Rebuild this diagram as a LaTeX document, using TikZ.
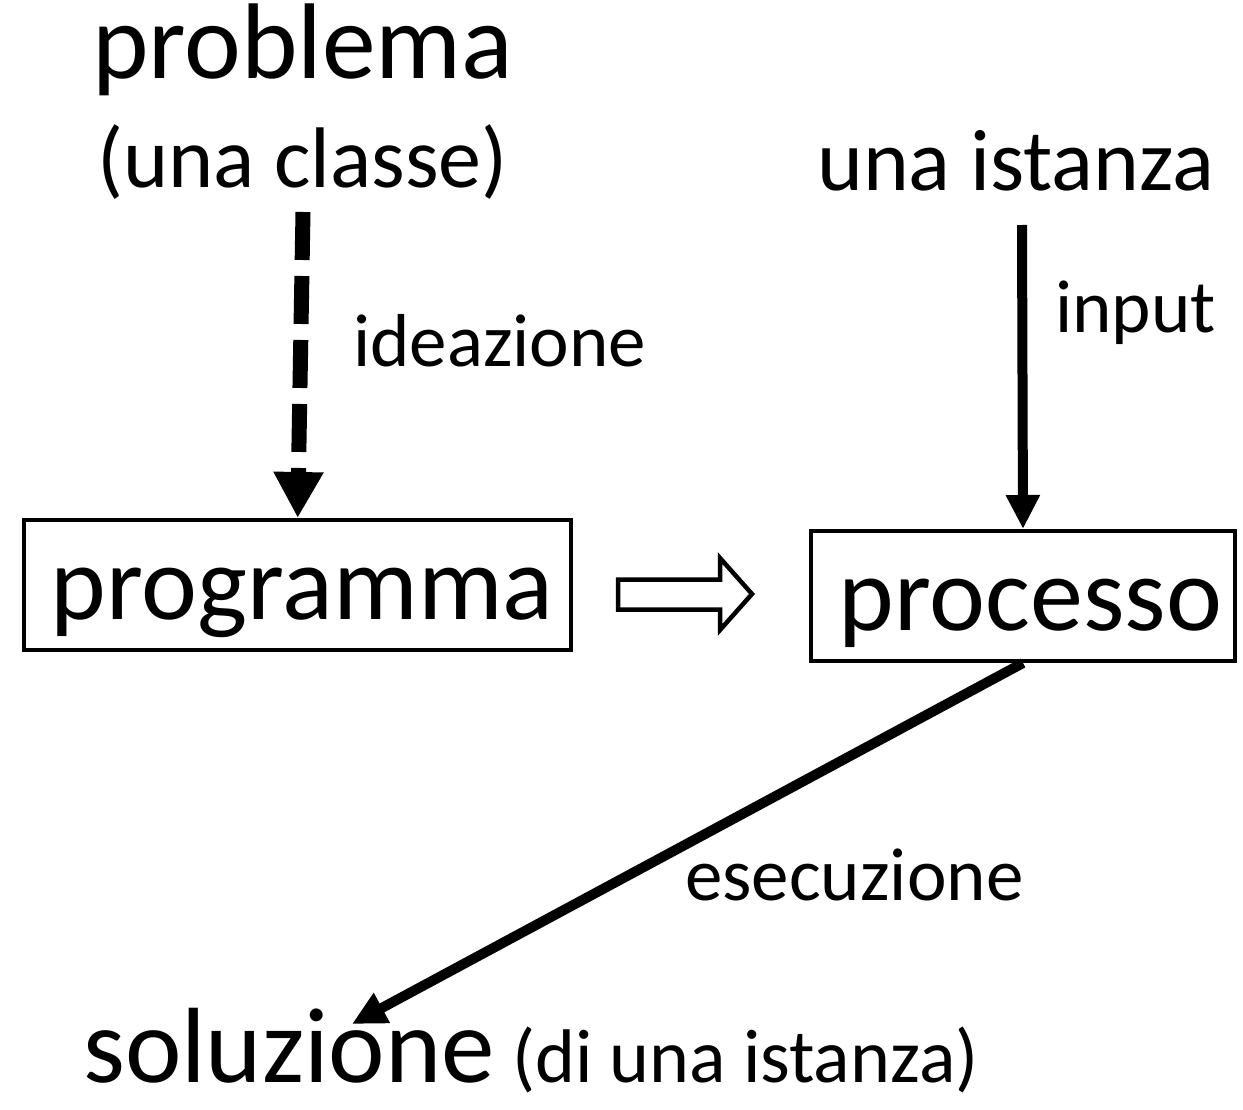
\documentclass[tikz,border=0pt]{standalone}
\usepackage{fontspec}
\setmainfont{Carlito}
\usetikzlibrary{arrows.meta}
\begin{document}
\begin{tikzpicture}[x=1pt,y=-1pt,
  txt/.style={inner sep=0pt, anchor=base west},
  big/.style={font=\fontsize{106}{106}\selectfont},
  small/.style={font=\fontsize{75}{75}\selectfont},
  boxnode/.style={draw, line width=4pt, inner sep=0pt, text height=99pt, text depth=31pt, anchor=base, big},
  conn/.style={line width=10pt, -{Triangle[length=34pt,width=32pt]}},
  dashconn/.style={line width=15pt, dash pattern=on 48pt off 16pt, -{Triangle[length=46pt,width=47pt]}},
  hollow/.style={draw, line width=4.5pt, line join=miter, fill=white}
]
\useasboundingbox (0,0) rectangle (1243,1110);
\node[txt, font=\fontsize{107.6}{107.6}\selectfont] (problema) at (92,79) {problema};
\node[txt, font=\fontsize{86}{86}\selectfont] (classe) at (97,188) {(una classe)};
\node[txt, font=\fontsize{87.3}{87.3}\selectfont] (istanza) at (817,191) {una istanza};
\node[txt, small] (ideazione) at (353,366) {ideazione};
\node[txt, small] (input) at (1055,332) {input};
\node[boxnode, minimum width=546.5pt] (prog) at (297.7,619) {\hspace*{9pt}programma};
\node[boxnode, minimum width=423.7pt] (proc) at (1023,630) {\hspace*{15pt}processo};
\node[txt, small] (esecuzione) at (685,900) {esecuzione};
\node[txt, font=\fontsize{107}{107}\selectfont] (soluzione) at (83,1082) {soluzione};
\node[txt, font=\fontsize{76}{76}\selectfont] (dlista) at (512,1082) {(di una istanza)};
\coordinate (d0) at (303,212);
\coordinate (i0) at (1022,225);
\coordinate (e1) at (352,1024);
\draw[dashconn] (d0) -- (prog.north);
\draw[conn] (i0) -- (proc.north);
\draw[conn] (proc.south) -- (e1);
\draw[hollow] (618,579.5) -- (720,579.5) -- (720,558) -- (752,594) -- (720,630) -- (720,609.5) -- (618,609.5) -- cycle;
\end{tikzpicture}
\end{document}
